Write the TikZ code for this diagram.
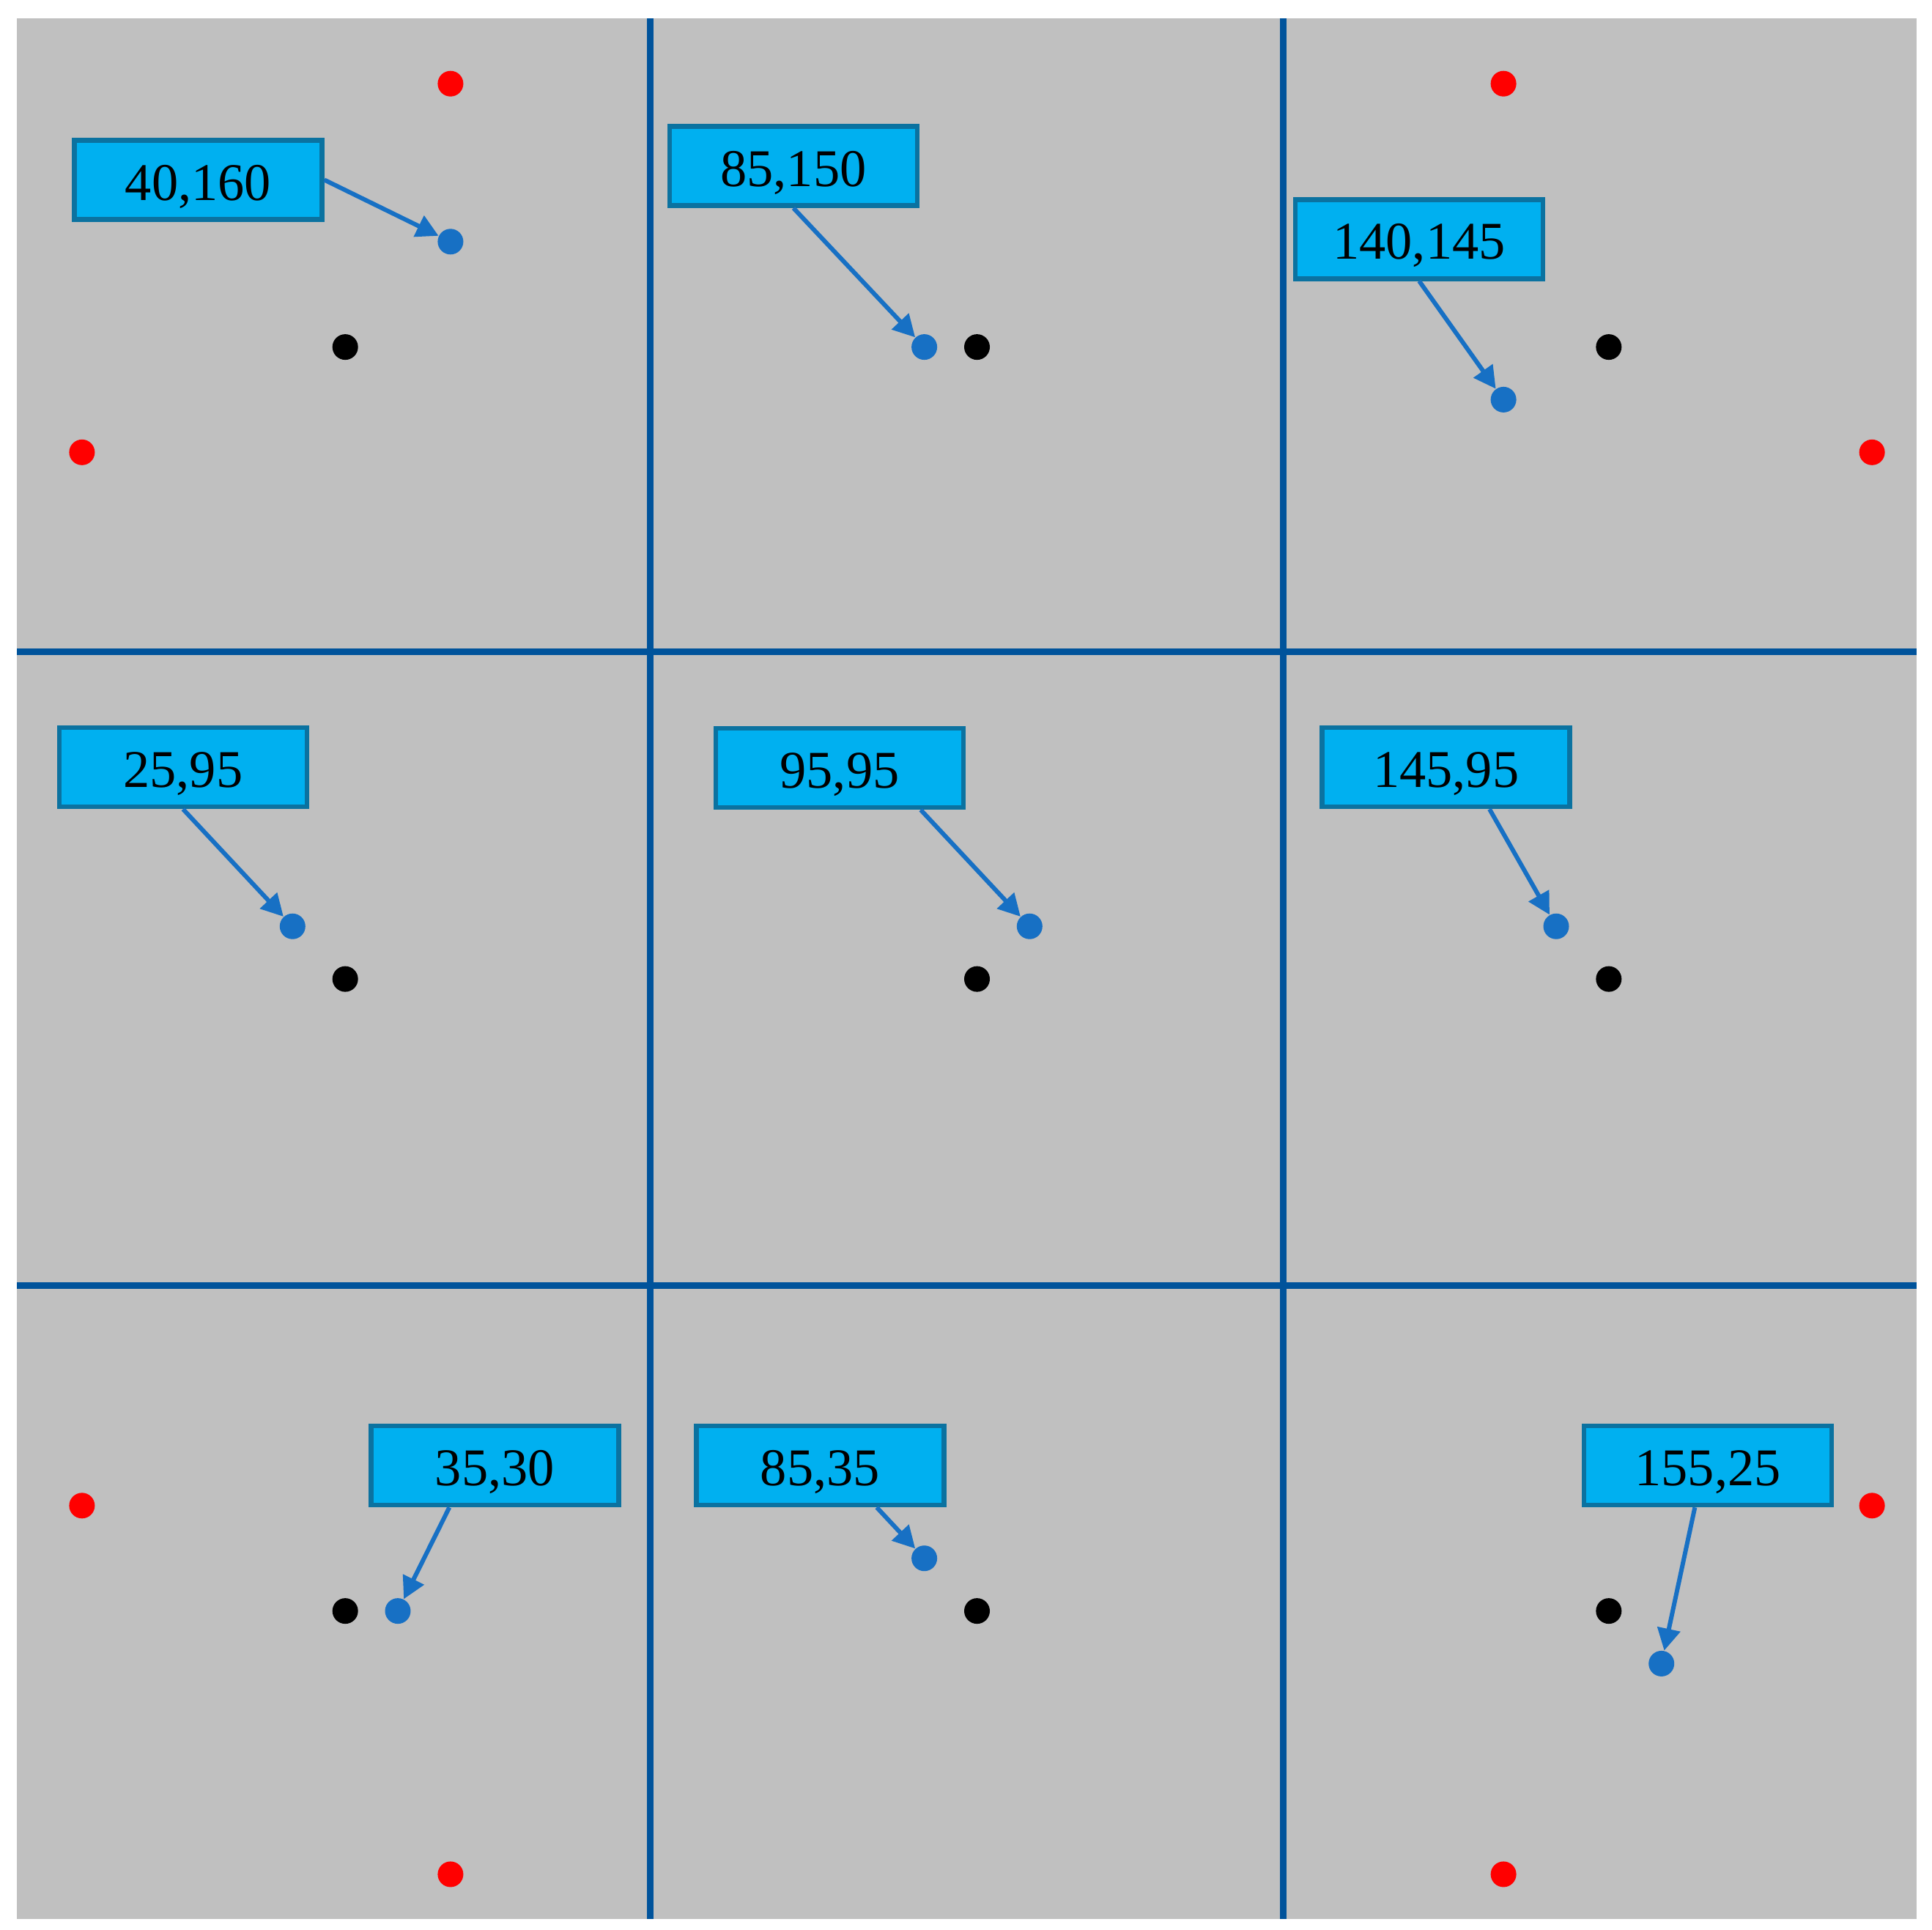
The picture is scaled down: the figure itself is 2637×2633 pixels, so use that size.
\documentclass[tikz,border=0pt]{standalone}
\usepackage{fontspec}
\setmainfont{Liberation Serif}
\usetikzlibrary{arrows.meta}
\definecolor{bg}{HTML}{C0C0C0}
\definecolor{gridblue}{HTML}{00539B}
\definecolor{boxfill}{HTML}{00B0F0}
\definecolor{boxline}{HTML}{0B72A0}
\definecolor{ptblue}{HTML}{1770C4}
\definecolor{ptred}{HTML}{FF0000}
\begin{document}
\begin{tikzpicture}[x=0.1mm,y=-0.1mm,
  lbl/.style={draw=boxline, fill=boxfill, line width=0.65mm, minimum width=33.8mm,
    minimum height=10.8mm, inner sep=0pt, text height=5.5mm, text depth=0pt,
    font=\fontsize{20.6pt}{24pt}\selectfont},
  ptbase/.style={circle, inner sep=0pt, minimum size=3.5mm},
  blackpt/.style={ptbase, fill=black},
  redpt/.style={ptbase, fill=ptred},
  bluept/.style={ptbase, fill=ptblue},
  gridline/.style={draw=gridblue, line width=0.9mm},
  conn/.style={draw=ptblue, line width=0.6mm, -{Triangle[length=3mm,width=3.1mm]}}
]
\useasboundingbox (0,0) rectangle (2637,2633);
% background
\fill[bg] (23.2,25) rectangle (2616,2618.7);
% grid lines
\draw[gridline] (887.5,25) -- (887.5,2618.7);
\draw[gridline] (1751.8,25) -- (1751.8,2618.7);
\draw[gridline] (23.2,889.6) -- (2616,889.6);
\draw[gridline] (23.2,1754.1) -- (2616,1754.1);
% black points
\node[blackpt] (k1) at (471.2,473.6) {};
\node[blackpt] (k2) at (1333.5,473.6) {};
\node[blackpt] (k3) at (2195.8,473.6) {};
\node[blackpt] (k4) at (471.2,1336.1) {};
\node[blackpt] (k5) at (1333.5,1336.1) {};
\node[blackpt] (k6) at (2195.8,1336.1) {};
\node[blackpt] (k7) at (471.2,2198.6) {};
\node[blackpt] (k8) at (1333.5,2198.6) {};
\node[blackpt] (k9) at (2195.8,2198.6) {};
% red points
\node[redpt] (r1) at (614.9,114.2) {};
\node[redpt] (r2) at (111.9,617.3) {};
\node[redpt] (r3) at (2052.1,114.2) {};
\node[redpt] (r4) at (2555.1,617.3) {};
\node[redpt] (r5) at (111.9,2054.8) {};
\node[redpt] (r6) at (614.9,2557.9) {};
\node[redpt] (r7) at (2052.1,2557.9) {};
\node[redpt] (r8) at (2555.1,2054.8) {};
% labels
\node[lbl] (l1) at (270.5,245.5) {40,160};
\node[lbl] (l2) at (1083,226.7) {85,150};
\node[lbl] (l3) at (1937,326.3) {140,145};
\node[lbl] (l4) at (249.8,1047) {25,95};
\node[lbl] (l5) at (1146,1048) {95,95};
\node[lbl] (l6) at (1973.7,1047) {145,95};
\node[lbl] (l7) at (675.3,2000) {35,30};
\node[lbl] (l8) at (1119.3,2000) {85,35};
\node[lbl] (l9) at (2331,2000) {155,25};
% blue points (positions; filled after connectors)
\coordinate (b1c) at (614.9,329.8);
\coordinate (b2c) at (1261.6,473.6);
\coordinate (b3c) at (2052.1,545.4);
\coordinate (b4c) at (399.3,1264.2);
\coordinate (b5c) at (1405.3,1264.2);
\coordinate (b6c) at (2124,1264.2);
\coordinate (b7c) at (543,2198.6);
\coordinate (b8c) at (1261.6,2126.7);
\coordinate (b9c) at (2267.7,2270.4);
\path (b1c) node[ptbase] (b1) {} (b2c) node[ptbase] (b2) {} (b3c) node[ptbase] (b3) {}
      (b4c) node[ptbase] (b4) {} (b5c) node[ptbase] (b5) {} (b6c) node[ptbase] (b6) {}
      (b7c) node[ptbase] (b7) {} (b8c) node[ptbase] (b8) {} (b9c) node[ptbase] (b9) {};
% connectors
\draw[conn] (l1.east) -- (b1);
\draw[conn] (l2.south) -- (b2);
\draw[conn] (l3.south) -- (b3);
\draw[conn] (l4.south) -- (b4);
\draw[conn] ([xshift=11.07mm]l5.south) -- (b5);
\draw[conn] ([xshift=5.93mm]l6.south) -- (b6);
\draw[conn] ([xshift=-6.2mm]l7.south) -- (b7);
\draw[conn] ([xshift=7.74mm]l8.south) -- (b8);
\draw[conn] ([xshift=-1.77mm]l9.south) -- (b9);
% blue points drawn on top
\foreach \i in {1,...,9} { \fill[ptblue] (b\i c) circle[radius=1.75mm]; }
\end{tikzpicture}
\end{document}
